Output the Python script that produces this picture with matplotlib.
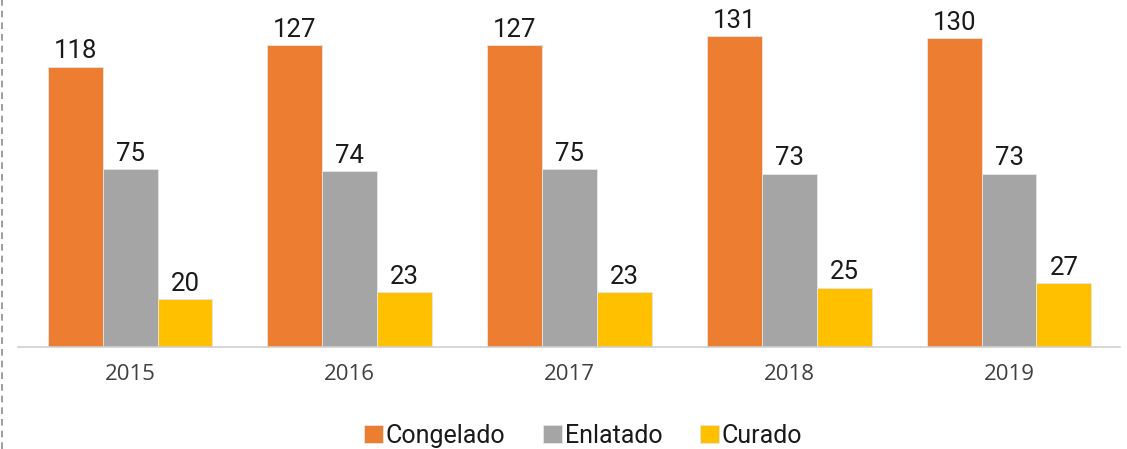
import matplotlib.pyplot as plt
from matplotlib.lines import Line2D
import numpy as np

years = ["2015", "2016", "2017", "2018", "2019"]
series = ["Congelado", "Enlatado", "Curado"]
congelado = [118, 127, 127, 131, 130]
enlatado = [75, 74, 75, 73, 73]
curado = [20, 23, 23, 25, 27]
colors = ["#ED7D31", "#A5A5A5", "#FFC000"]

fig = plt.figure(figsize=(11.27, 4.49), dpi=100)
ax = fig.add_axes([18 / 1127, 102 / 449, 1102 / 1127, 347 / 449])

x = np.arange(len(years))
w = 0.25
for i, (name, vals) in enumerate(zip(series, [congelado, enlatado, curado])):
    bars = ax.bar(x + (i - 1) * w, vals, w, color=colors[i], label=name,
                  edgecolor="#e6e6e6", linewidth=0.6)
    for b, v in zip(bars, vals):
        ax.text(b.get_x() + b.get_width() / 2, v + 1.3, str(v), ha="center", va="bottom",
                fontsize=18.5, family="Roboto", color="#1a1a1a")

ax.set_xlim(-0.51, 4.505)
ax.set_ylim(0, 146)
ax.set_xticks(x)
ax.set_xticklabels(years, fontsize=16, family="Open Sans", color="#404040")
ax.tick_params(axis="x", length=0, pad=12)
ax.set_yticks([])
for s in ["top", "right", "left"]:
    ax.spines[s].set_visible(False)
ax.spines["bottom"].set_color("#d0d0d0")
ax.spines["bottom"].set_linewidth(1.2)

leg = fig.legend(loc="center", bbox_to_anchor=(583 / 1127, 1 - 436 / 449), ncol=3,
                 frameon=False, prop={"family": "Roboto", "size": 18},
                 handlelength=0.75, handleheight=0.75, handletextpad=0.12, columnspacing=1.5)
for t in leg.get_texts():
    t.set_color("#1a1a1a")

fig.add_artist(Line2D([2 / 1127, 2 / 1127], [0, 1], color="#8c8c8c", linewidth=1.2,
                      linestyle=(0, (4, 3))))

fig.savefig("out.png", dpi=100)
